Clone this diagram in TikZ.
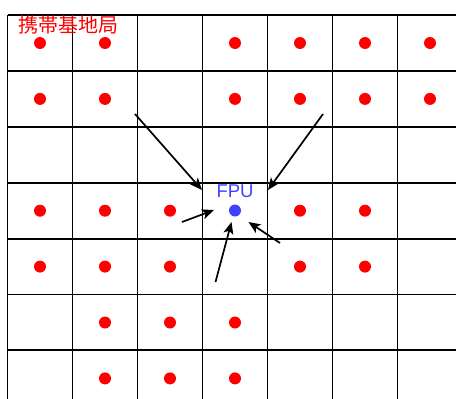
\documentclass[tikz,border=0pt]{standalone}
\usepackage{fontspec}
\setmainfont{Liberation Sans}
\newfontfamily\jpfont{Noto Sans CJK JP}
\usetikzlibrary{arrows.meta}
\definecolor{fpublue}{RGB}{64,64,255}

\begin{document}
\begin{tikzpicture}[x=1pt, y=-1pt,
    grid/.style={line width=1.9pt, black},
    bs/.style={circle, fill=red, inner sep=0pt, minimum size=12pt},
    fpu/.style={circle, fill=fpublue, inner sep=0pt, minimum size=12pt},
    flow/.style={-{Stealth[length=12pt, width=10pt, inset=3pt]}, line width=1.7pt}
  ]
    \useasboundingbox (0,0) rectangle (456,399);
    % cells
    \foreach \i in {0,...,6}
      \draw[grid] (7.5+65*\i,15) -- (7.5+65*\i,399);
    \foreach \j in {0,...,6}
      \draw[grid] (7.5,15+55.9*\j) -- (456,15+55.9*\j);
    % base stations
    \foreach \c/\r in {0/0,1/0,3/0,4/0,5/0,6/0,
                       0/1,1/1,3/1,4/1,5/1,6/1,
                       0/3,1/3,2/3,4/3,5/3,
                       0/4,1/4,2/4,4/4,5/4,
                       1/5,2/5,3/5,
                       1/6,2/6,3/6}
      \node[bs] (bs-\c-\r) at (40+65*\c, 43+55.9*\r) {};
    \node[text=red, font=\jpfont\fontsize{20}{20}\selectfont] (bslabel) at (69,25) {携帯基地局};
    % FPU
    \node[fpu] (fpu) at (235,210.5) {};
    \node[text=fpublue, font=\fontsize{18.5}{18.5}\selectfont] (fpulabel) at (235,191.5) {FPU};
    % arrows
    \coordinate (nw) at (135,114);
    \coordinate (nwend) at (202,190);
    \coordinate (ne) at (323,114);
    \coordinate (neend) at (268,190);
    \coordinate (w) at (182,222);
    \coordinate (wend) at (214,210);
    \coordinate (s) at (215.5,282);
    \coordinate (send) at (231.5,222);
    \coordinate (se) at (280,243);
    \coordinate (seend) at (248.5,222);
    \draw[flow] (nw) -- (nwend);
    \draw[flow] (ne) -- (neend);
    \draw[flow] (w) -- (wend);
    \draw[flow] (s) -- (send);
    \draw[flow] (se) -- (seend);
  \end{tikzpicture}
\end{document}
